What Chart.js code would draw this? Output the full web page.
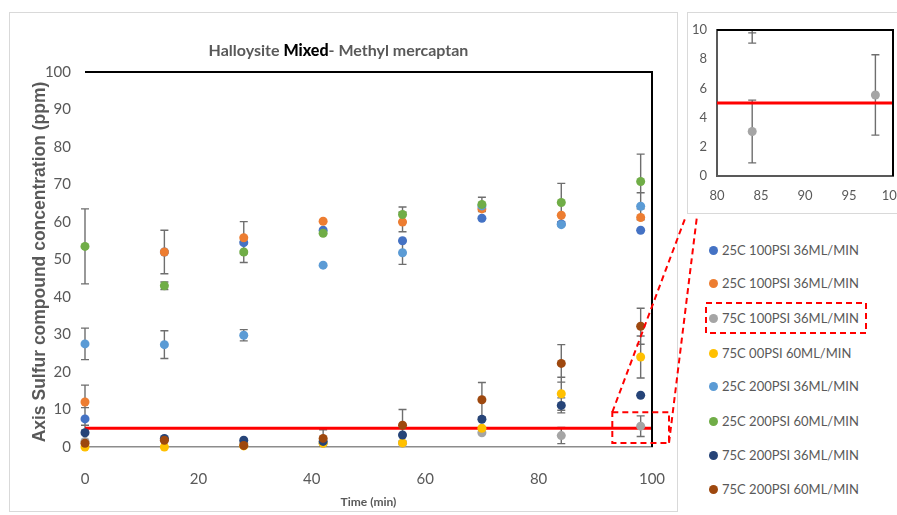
<!DOCTYPE html>
<html>
<head>
<meta charset="utf-8">
<script src="https://cdn.jsdelivr.net/npm/chart.js@4.4.1/dist/chart.umd.min.js"></script>
<style>
  body { margin: 0; width: 897px; height: 515px; overflow: hidden; background: #fff; position: relative;
         font-family: Lato, 'Open Sans', sans-serif; }
  .panel { position: absolute; border: 1px solid #d9d9d9; box-sizing: border-box; }
  canvas { position: absolute; }
  #title { position: absolute; left: 0; top: 40px; width: 677px; text-align: center; font-weight: bold;
           font-size: 16px; line-height: 20px; color: #595959; }
  #title b { color: #000; }
  #ytitle { position: absolute; left: -160px; top: 251px; width: 400px; height: 22px; line-height: 22px;
            text-align: center; transform: rotate(-90deg); font: bold 17.5px 'Liberation Sans', Arial, sans-serif; color: #595959; }
  #legend { position: absolute; left: 709px; top: 0; }
  .item { position: absolute; left: 0; white-space: nowrap; font-size: 13px; color: #595959; line-height: 18px; }
  .item i { display: inline-block; width: 9px; height: 9px; border-radius: 50%; margin-right: 4px; vertical-align: 0px; }
</style>
</head>
<body>
<div class="panel" style="left:9px;top:12px;width:669px;height:500px"></div>
<div class="panel" style="left:687px;top:12px;width:240px;height:202px"></div>
<canvas id="mainChart" width="668" height="500" style="left:9px;top:12px"></canvas>
<canvas id="insetChart" width="240" height="202" style="left:687px;top:12px"></canvas>
<div id="title">Halloysite <b>Mixed</b>- Methyl mercaptan</div>
<div id="ytitle">Axis Sulfur compound concentration (ppm)</div>
<div id="legend"></div>
<canvas id="overlay" width="897" height="515" style="left:0;top:0;pointer-events:none"></canvas>
<script>
/* ---------- data ---------- */
const times = [0, 14, 28, 42, 56, 70, 84, 98];
const seriesLabels = [
  '25C 100PSI 36ML/MIN', '25C 100PSI 36ML/MIN', '75C 100PSI 36ML/MIN', '75C 00PSI 60ML/MIN',
  '25C 200PSI 36ML/MIN', '25C 200PSI 60ML/MIN', '75C 200PSI 36ML/MIN', '75C 200PSI 60ML/MIN'
];
const s25C100a = [7.5, 52, 54.5, 57.8, 55, 61, 59.5, 57.8];
const s25C100b = [12, 52, 55.8, 60.2, 60, 63.5, 61.8, 61.2];
const s75C100 = [1.5, 2, 1, 1, 1, 3.8, 3.05, 5.55];
const s75C00 = [0, 0, 0.3, 1, 1.1, 5, 14.2, 24];
const s25C200f36 = [27.5, 27.3, 29.8, 48.5, 51.8, 64.3, 59.3, 64.2];
const s25C200f60 = [53.5, 43, 52, 57, 62, 64.7, 65.2, 70.8];
const s75C200f36 = [3.8, 2.3, 1.8, 1.5, 3.2, 7.4, 11.1, 13.8];
const s75C200f60 = [1, 1.8, 0.4, 2.3, 5.8, 12.6, 22.3, 32.2];
// +/- error
const e25C100a = [3, 0, 0, 0, 0, 0, 0, 0];
const e25C100b = [4.5, 5.8, 4.3, 0, 2.6, 0, 0, 0];
const e75C100 = [0, 0, 0, 0, 0, 0, 2.15, 2.75];
const e75C00 = [0, 0, 0, 0, 0, 0, 4.4, 5.6];
const e25C200f36 = [4.2, 3.7, 1.5, 0, 3.1, 0, 0, 3.6];
const e25C200f60 = [10, 1, 2.8, 0, 2, 1.9, 5.1, 7.3];
const e75C200f36 = [2, 0, 0, 0, 0, 0, 2, 0];
const e75C200f60 = [0, 0, 0, 2.3, 4.2, 4.6, 5.0, 4.8];
const limitX = [0, 100];
const limitY = [5, 5];
const mainXTicks = [0, 20, 40, 60, 80, 100];
const mainYTicks = [0, 10, 20, 30, 40, 50, 60, 70, 80, 90, 100];
const insetXTicks = [80, 85, 90, 95, 100];
const insetYTicks = [0, 2, 4, 6, 8, 10];
const calloutX = [93, 103];
const calloutY = [1.1, 9.3];

const allVals = [s25C100a, s25C100b, s75C100, s75C00, s25C200f36, s25C200f60, s75C200f36, s75C200f60];
const allErr = [e25C100a, e25C100b, e75C100, e75C00, e25C200f36, e25C200f60, e75C200f36, e75C200f60];
const colors = ['#4472C4', '#ED7D31', '#A5A5A5', '#FFC000', '#5B9BD5', '#70AD47', '#264478', '#9E480E'];

const GRAY = '#595959';
const FONT = "Lato, 'Open Sans', sans-serif";

/* ---------- plugins ---------- */
const errorBars = {
  id: 'errorBars',
  beforeDatasetsDraw(chart) {
    const {ctx, chartArea: a, scales: {x, y}} = chart;
    ctx.save();
    ctx.beginPath();
    ctx.rect(a.left - 8, a.top, a.right - a.left + 16, a.bottom - a.top);
    ctx.clip();
    ctx.strokeStyle = '#6e6e6e';
    ctx.lineWidth = 1.4;
    ctx.beginPath();
    chart.data.datasets.forEach(ds => {
      if (!ds.err) return;
      ds.data.forEach((p, i) => {
        const e = ds.err[i];
        if (!e) return;
        const px = x.getPixelForValue(p.x);
        const lo = y.getPixelForValue(p.y - e), hi = y.getPixelForValue(p.y + e);
        ctx.moveTo(px, lo); ctx.lineTo(px, hi);
        ctx.moveTo(px - 4, lo); ctx.lineTo(px + 4, lo);
        ctx.moveTo(px - 4, hi); ctx.lineTo(px + 4, hi);
      });
    });
    ctx.stroke();
    ctx.restore();
  }
};

const frame = {
  id: 'frame',
  afterDatasetsDraw(chart, args, opts) {
    const {ctx, chartArea: a} = chart;
    ctx.save();
    ctx.strokeStyle = '#000';
    ctx.lineWidth = opts.width || 2;
    ctx.beginPath();
    ctx.moveTo(a.left, a.top);
    ctx.lineTo(a.right, a.top);
    ctx.lineTo(a.right, a.bottom);
    ctx.stroke();
    ctx.restore();
  }
};

function makeDatasets(clip) {
  const ds = allVals.map((vals, i) => ({
    label: seriesLabels[i],
    data: vals.map((v, j) => ({x: times[j], y: v})),
    err: allErr[i],
    backgroundColor: colors[i],
    borderWidth: 0,
    pointRadius: 4.5,
    order: 10 - i,
    clip: clip
  }));
  ds.push({
    type: 'line',
    data: limitX.map((x, i) => ({x: x, y: limitY[i]})),
    borderColor: '#ff0000',
    borderWidth: 3,
    pointRadius: 0,
    order: 20
  });
  return ds;
}

function tickList(list) {
  return scale => { scale.ticks = list.map(v => ({value: v})); };
}
// fixed axis box size, no extra label overhang padding
function fixBox(w, h) {
  return s => {
    if (w != null) s.width = w;
    if (h != null) s.height = h;
    s.paddingLeft = s.paddingRight = s.paddingTop = s.paddingBottom = 0;
  };
}

/* ---------- main chart ---------- */
const mainChart = new Chart(document.getElementById('mainChart'), {
  type: 'scatter',
  data: {datasets: makeDatasets(false)},
  plugins: [errorBars, frame],
  options: {
    responsive: false,
    animation: false,
    events: [],
    layout: {padding: {left: 0, top: 60, right: 25, bottom: 0}},
    plugins: {legend: {display: false}, tooltip: {enabled: false}, frame: {width: 2}},
    scales: {
      x: {
        type: 'linear', min: 0, max: 100,
        afterBuildTicks: tickList(mainXTicks),
        afterFit: fixBox(null, 65),
        grid: {display: false, drawTicks: false},
        border: {display: true, color: '#8c8c8c', width: 1.5},
        ticks: {color: GRAY, font: {family: FONT, size: 15}, padding: 23},
        title: {display: true, text: 'Time (min)', color: GRAY, font: {family: FONT, size: 12, weight: 'bold'}, padding: {top: 0, bottom: 3}}
      },
      y: {
        min: 0, max: 100,
        afterBuildTicks: tickList(mainYTicks),
        afterFit: fixBox(76, null),
        grid: {display: false, drawTicks: false},
        border: {display: false},
        ticks: {color: GRAY, font: {family: FONT, size: 15}, padding: 14}
      }
    }
  }
});

/* ---------- inset chart ---------- */
const insetChart = new Chart(document.getElementById('insetChart'), {
  type: 'scatter',
  data: {datasets: makeDatasets(4)},
  plugins: [errorBars, frame],
  options: {
    responsive: false,
    animation: false,
    events: [],
    layout: {padding: {left: 0, top: 18, right: 34, bottom: 0}},
    plugins: {legend: {display: false}, tooltip: {enabled: false}, frame: {width: 2}},
    scales: {
      x: {
        type: 'linear', min: 80, max: 100,
        afterBuildTicks: tickList(insetXTicks),
        afterFit: fixBox(null, 38),
        grid: {display: false, drawTicks: false},
        border: {display: true, color: GRAY, width: 2},
        ticks: {color: GRAY, font: {family: FONT, size: 13}, padding: 12}
      },
      y: {
        min: 0, max: 10,
        afterBuildTicks: tickList(insetYTicks),
        afterFit: fixBox(30, null),
        grid: {display: false, drawTicks: false},
        border: {display: true, color: GRAY, width: 2},
        ticks: {color: GRAY, font: {family: FONT, size: 13}, padding: 10}
      }
    }
  }
});

/* ---------- legend ---------- */
const legendTops = [250, 283, 318, 353, 386, 421, 455, 489];
const lg = document.getElementById('legend');
seriesLabels.forEach((lab, i) => {
  const d = document.createElement('div');
  d.className = 'item';
  d.style.top = (legendTops[i] - 9) + 'px';
  d.innerHTML = `<i style="background:${colors[i]}"></i>${lab}`;
  lg.appendChild(d);
});

/* ---------- zoom callout ---------- */
(function drawCallout() {
  const ctx = document.getElementById('overlay').getContext('2d');
  const mx = mainChart.scales.x, my = mainChart.scales.y;
  const x1 = 9 + mx.getPixelForValue(calloutX[0]), x2 = 9 + mx.getPixelForValue(calloutX[1]);
  const y1 = 12 + my.getPixelForValue(calloutY[1]), y2 = 12 + my.getPixelForValue(calloutY[0]);
  ctx.strokeStyle = '#ff0000';
  ctx.lineWidth = 2;
  ctx.setLineDash([6, 4]);
  ctx.strokeRect(x1, y1, x2 - x1, y2 - y1);
  ctx.beginPath();
  ctx.moveTo(x1, y1); ctx.lineTo(686, 216);
  ctx.moveTo(x2, y2); ctx.lineTo(697, 216);
  ctx.stroke();
  ctx.strokeRect(706, 303, 160, 30);
})();
</script>
</body>
</html>
